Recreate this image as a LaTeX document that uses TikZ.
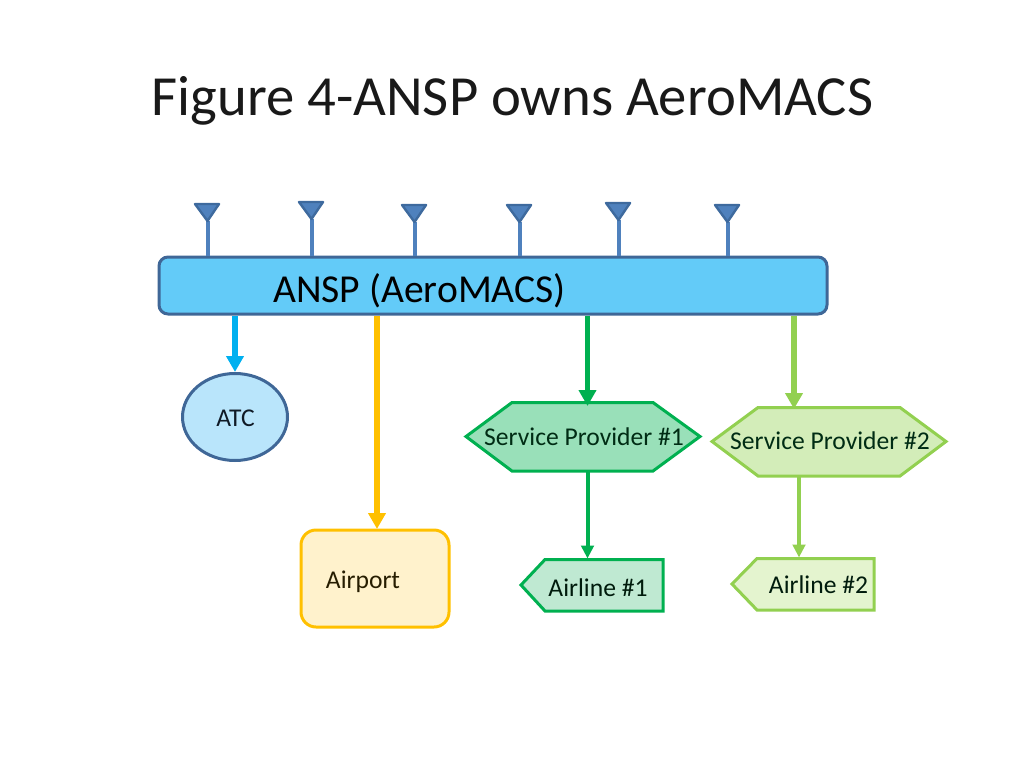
\documentclass[tikz,border=0pt]{standalone}
\usepackage{fontspec}
\setmainfont{Carlito}
\usetikzlibrary{arrows.meta,shapes.geometric}
\definecolor{barfill}{HTML}{63CBF8}
\definecolor{navy}{HTML}{3F6797}
\definecolor{antfill}{HTML}{4F81BD}
\definecolor{antline}{HTML}{3E6A9E}
\definecolor{atcfill}{HTML}{B9E5FB}
\definecolor{cyanline}{HTML}{00B0F0}
\definecolor{gold}{HTML}{FFC000}
\definecolor{goldfill}{HTML}{FFF2CC}
\definecolor{green1}{HTML}{00B050}
\definecolor{green1fill}{HTML}{99E0B9}
\definecolor{green1pale}{HTML}{BFE9D2}
\definecolor{green2}{HTML}{92D050}
\definecolor{green2fill}{HTML}{D3EDB9}
\definecolor{green2pale}{HTML}{E4F4CF}
\tikzset{
  x=1pt,y=-1pt,
  antstem/.style={draw=antfill,line width=3.6pt},
  ant/.style={line width=2.4pt,draw=antline,fill=antfill,line join=round},
  bigarrow/.style={line width=5.5pt,-{Triangle[length=16pt,width=17pt]}},
  smallarrow/.style={line width=4pt,-{Triangle[length=13pt,width=12.5pt]}},
  lab/.style={inner sep=0pt,font=\fontsize{25.6}{30}\selectfont},
  tag/.style={line width=3pt,line join=miter},
}
\begin{document}
\begin{tikzpicture}
\useasboundingbox (0,0) rectangle (1024,768);
\node[inner sep=0pt,font=\fontsize{56.7}{66}\selectfont,color=black!90] (title) at (512.5,100.5) {Figure 4-ANSP owns AeroMACS};

% bar
\node[draw=navy,fill=barfill,line width=3pt,rounded corners=9pt,minimum width=668pt,minimum height=57pt,inner sep=0pt] (bar) at (493,285.5) {};
\node[inner sep=0pt,font=\fontsize{39.6}{46}\selectfont] (barlabel) at (419.5,291) {ANSP (AeroMACS)};

% antennas
\foreach \n/\xa/\ya in {1/207/204,2/311/202,3/414/205,4/519/205,5/618/203,6/727/205}{
  \coordinate (tip\n) at (\xa+1,\ya+17);
  \draw[antstem] (tip\n) -- (tip\n |- bar.north);
  \draw[ant] (\xa-12,\ya) -- (\xa+12,\ya) -- (\xa+0.5,\ya+17) -- cycle;
}

% ATC
\node[ellipse,draw=navy,fill=atcfill,line width=3pt,minimum width=105pt,minimum height=87pt,inner sep=0pt] (atc) at (235,417) {};
\node[lab,text=black!75!navy] (atclabel) at (235.5,418) {ATC};
\draw[bigarrow,color=cyanline] (atc.north |- bar.south) -- (atc.north);

% Airport
\node[draw=gold,fill=goldfill,line width=3pt,rounded corners=15pt,minimum width=148pt,minimum height=97pt,inner sep=0pt] (airport) at (375,578.5) {};
\node[lab,text=black!85!gold] (airportlabel) at (363,582) {Airport};
\coordinate (airporttop) at (377,529);
\draw[bigarrow,color=gold] (airporttop |- bar.south) -- (airporttop);

% Service providers
\draw[tag,draw=green1,fill=green1fill] (466,436.5) -- (512,402.5) -- (653,402.5) -- (700,436.5) -- (653,471) -- (512,471) -- cycle;
\node[lab,text=black!75!green1] (sp1) at (584,436.5) {Service Provider \#1};
\draw[tag,draw=green2,fill=green2fill] (712,441.5) -- (758,407.5) -- (900,407.5) -- (946,441.5) -- (900,476) -- (758,476) -- cycle;
\node[lab,text=black!75!green1] (sp2) at (830,441) {Service Provider \#2};
\coordinate (sp1top) at (587.5,406);
\coordinate (sp2top) at (794,409);
\coordinate (sp1bot) at (587.5,471);
\coordinate (sp2bot) at (799,476);
\draw[bigarrow,color=green1] (sp1top |- bar.south) -- (sp1top);
\draw[bigarrow,color=green2] (sp2top |- bar.south) -- (sp2top);

% Airlines
\draw[tag,draw=green1,fill=green1pale] (521,585) -- (545,559.5) -- (663,559.5) -- (663,611) -- (545,611) -- cycle;
\node[lab,text=black!85!green1] (air1) at (598,588) {Airline \#1};
\draw[tag,draw=green2,fill=green2pale] (732,584) -- (757,558.5) -- (874,558.5) -- (874,610) -- (757,610) -- cycle;
\node[lab,text=black!85!green1] (air2) at (818.5,585) {Airline \#2};
\coordinate (air1top) at (587.5,558.5);
\coordinate (air2top) at (799,557.5);
\draw[smallarrow,color=green1] (sp1bot) -- (air1top);
\draw[smallarrow,color=green2] (sp2bot) -- (air2top);
\end{tikzpicture}
\end{document}
